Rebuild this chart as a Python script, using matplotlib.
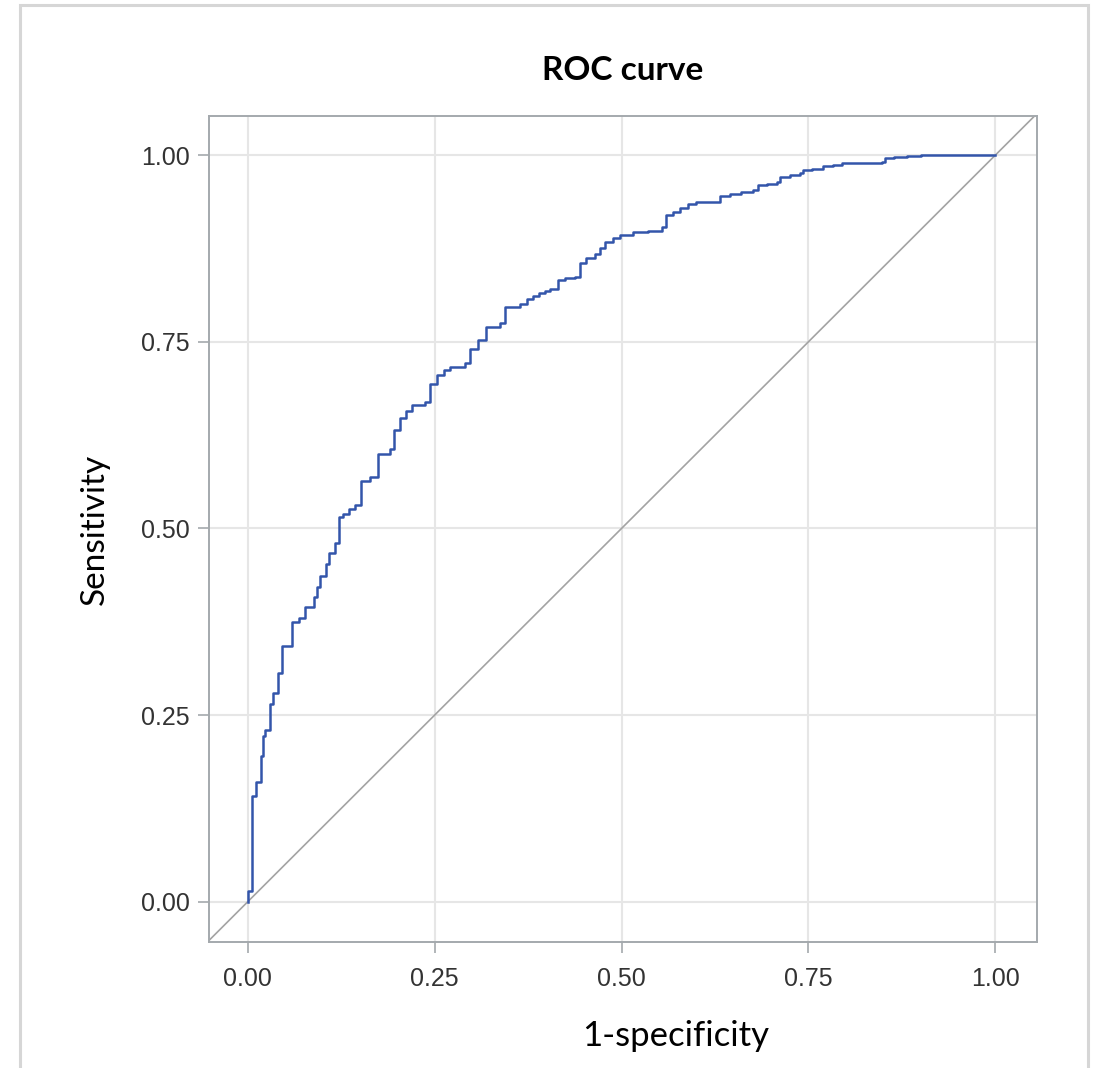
import matplotlib
matplotlib.use("Agg")
import matplotlib.pyplot as plt
from matplotlib.patches import Rectangle

# ROC operating points (1-specificity, sensitivity)
fpr = [0.0, 0.0, 0.005, 0.0116, 0.017, 0.0205, 0.0225, 0.0295, 0.034, 0.0406,
       0.046, 0.0585, 0.0687, 0.076, 0.088, 0.0928, 0.097, 0.104, 0.109, 0.1165,
       0.122, 0.128, 0.136, 0.143, 0.152, 0.163, 0.174, 0.190, 0.195, 0.2035,
       0.211, 0.219, 0.237, 0.244, 0.2526, 0.262, 0.2704, 0.290, 0.297, 0.308,
       0.319, 0.337, 0.344, 0.364, 0.373, 0.381, 0.389, 0.397, 0.404, 0.415,
       0.425, 0.438, 0.444, 0.453, 0.4645, 0.471, 0.478, 0.488, 0.498, 0.516,
       0.536, 0.554, 0.560, 0.569, 0.578, 0.589, 0.600, 0.614, 0.632, 0.645,
       0.660, 0.676, 0.683, 0.695, 0.7075, 0.712, 0.725, 0.739, 0.743, 0.755,
       0.770, 0.783, 0.795, 0.820, 0.848, 0.853, 0.865, 0.882, 0.900, 1.0]
tpr = [0.0, 0.014, 0.141, 0.160, 0.195, 0.222, 0.230, 0.265, 0.279, 0.306,
       0.342, 0.374, 0.380, 0.395, 0.408, 0.421, 0.436, 0.453, 0.467, 0.481,
       0.516, 0.520, 0.526, 0.531, 0.563, 0.569, 0.600, 0.607, 0.632, 0.6475,
       0.657, 0.665, 0.670, 0.694, 0.7055, 0.712, 0.7166, 0.721, 0.741, 0.752,
       0.770, 0.775, 0.797, 0.801, 0.808, 0.812, 0.815, 0.818, 0.821, 0.833,
       0.835, 0.837, 0.855, 0.862, 0.868, 0.876, 0.884, 0.889, 0.893, 0.897,
       0.899, 0.904, 0.920, 0.924, 0.929, 0.935, 0.937, 0.938, 0.946, 0.948,
       0.951, 0.953, 0.960, 0.962, 0.964, 0.971, 0.973, 0.976, 0.980, 0.982,
       0.985, 0.987, 0.989, 0.990, 0.991, 0.996, 0.997, 0.999, 1.0, 1.0]

ticks = [0.0, 0.25, 0.5, 0.75, 1.0]
tick_labels = ["0.00", "0.25", "0.50", "0.75", "1.00"]

fig = plt.figure(figsize=(10.94, 10.68), dpi=100)
ax = fig.add_axes([0.191, 0.118, 0.757, 0.773])

# outer frame of the picture
fig.patches.append(Rectangle((20 / 1094, -0.02), 1068 / 1094, 1.0153,
                             transform=fig.transFigure, fill=False,
                             edgecolor="#d6d6d6", linewidth=2.2))

ax.axline((0, 0), (1, 1), color="#a3a3a3", linewidth=1.2, zorder=2)
ax.plot(fpr, tpr, drawstyle="steps-post", color="#3355aa", linewidth=1.8, zorder=3)

ax.set_xlim(-0.052, 1.056)
ax.set_ylim(-0.054, 1.052)
ax.set_xticks(ticks)
ax.set_xticklabels(tick_labels)
ax.set_yticks(ticks)
ax.set_yticklabels(tick_labels)
ax.grid(True, color="#e6e6e6", linewidth=1.5)
ax.set_axisbelow(True)

for sp in ax.spines.values():
    sp.set_color("#a4a9ad")
    sp.set_linewidth(1.4)

ax.tick_params(axis="both", direction="out", colors="#a4a9ad", labelcolor="#333333",
               labelsize=18, width=1.2, length=8)
ax.tick_params(axis="x", pad=10)
ax.tick_params(axis="y", pad=6)
for lab in ax.get_xticklabels() + ax.get_yticklabels():
    lab.set_family("Liberation Sans")

ax.set_xlabel("1-specificity", fontsize=25, family="Lato", color="black")
ax.xaxis.set_label_coords(0.563, -0.114, transform=ax.transAxes)
ax.xaxis.label.set_va("center")
ax.set_ylabel("Sensitivity", fontsize=24, family="Lato", labelpad=22, color="black")
fig.text(0.569, 0.934, "ROC curve", ha="center", va="center", fontsize=24,
         fontweight="bold", family="Lato")

fig.savefig("out.png", dpi=100)
